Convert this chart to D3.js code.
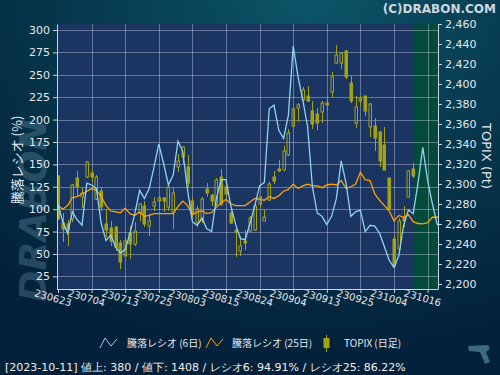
<!DOCTYPE html>
<html><head><meta charset="utf-8">
<script src="https://cdn.jsdelivr.net/npm/d3@7"></script>
<style>body{margin:0;background:#052a3c;} svg{display:block}</style>
</head><body><svg id="c" width="500" height="375"></svg>
<script>
const dates = ["230623","230626","230627","230628","230629","230630","230703","230704","230705","230706","230707","230710","230711","230712","230713","230714","230718","230719","230720","230721","230724","230725","230726","230727","230728","230731","230801","230802","230803","230804","230807","230808","230809","230810","230814","230815","230816","230817","230818","230821","230822","230823","230824","230825","230828","230829","230830","230831","230901","230904","230905","230906","230907","230908","230911","230912","230913","230914","230915","230919","230920","230921","230922","230925","230926","230927","230928","230929","231002","231003","231004","231005","231006","231010","231011","231012","231013","231016","231017","231018","231019"];
const tickLabels = ["230623","230704","230713","230725","230803","230815","230824","230904","230913","230925","231004","231016"];
const lastDate = "231011";

const open  = [2308,2261,2260,2265,2306,2287,2307,2311,2285,2293, 2260,2256,2257,2241,2228,2251,2240,2271,2278,2258, 2278,2283,2286,2277,2272,2317,2327,2317,2283,2261, 2263,2295,2289,2280,2307,2297,2271,2254,2233,2243, 2253,2254,2280,2263,2284,2307,2315,2314,2329,2358, 2376,2384,2388,2373,2370,2372,2381,2392,2421,2421, 2433,2401,2361,2383,2388,2357,2358,2352,2339,2306, 2245,2235,2266,2287,2315];
const high  = [2309,2271,2264,2300,2313,2297,2323,2314,2309,2297, 2275,2263,2258,2244,2247,2258,2262,2281,2283,2270, 2287,2288,2287,2300,2296,2330,2338,2329,2287,2278, 2287,2301,2290,2306,2315,2298,2273,2255,2248,2254, 2268,2280,2288,2274,2302,2313,2324,2338,2355,2377, 2381,2397,2398,2383,2376,2383,2388,2412,2439,2432, 2434,2408,2388,2388,2388,2381,2366,2353,2357,2306, 2249,2266,2278,2314,2321];
const low   = [2264,2242,2238,2262,2287,2276,2306,2302,2284,2273, 2247,2238,2233,2215,2227,2225,2238,2263,2257,2248, 2273,2273,2272,2273,2255,2312,2320,2297,2267,2257, 2261,2287,2278,2278,2278,2287,2260,2227,2228,2234, 2252,2253,2277,2263,2283,2300,2312,2313,2328,2357, 2362,2383,2382,2355,2354,2361,2373,2387,2420,2415, 2405,2381,2356,2378,2368,2347,2333,2317,2314,2275, 2217,2234,2257,2287,2306];
const close = [2265,2255,2254,2299,2297,2291,2322,2307,2307,2277, 2254,2243,2237,2222,2243,2240,2253,2280,2260,2263, 2282,2286,2283,2297,2291,2323,2337,2301,2270,2275, 2285,2291,2283,2304,2280,2290,2261,2252,2238,2241, 2266,2278,2287,2267,2300,2303,2313,2333,2351,2375, 2379,2394,2383,2360,2361,2381,2379,2407,2429,2431, 2407,2383,2377,2386,2373,2380,2346,2323,2314,2275, 2218,2263,2263,2313,2308];

const ratio6  = [105,86,73,97,88,82,129,127,123,84, 65,71,58,51,55,73,95,121,112,123, 147,173,151,127,138,176,164,121,86,82, 90,78,75,112,133,133,104,83,67,66, 84,104,126,130,212,216,188,179,205,282, 248,222,192,125,96,92,83,92,112,154, 129,92,97,99,75,82,81,73,58,43, 35,48,82,99,95,129,169,132,106,83, 80];
const ratio25 = [104,100,104,113,114,117,120,123,121,114, 104,98,97,96,101,95,93,97,92,93, 95,95,95,95,95,103,109,104,94,97, 98,95,96,102,107,111,106,104,104,104, 108,112,111,110,114,112,115,120,122,128, 123,126,128,126,126,124,127,128,127,132, 123,125,128,141,133,132,117,110,104,98, 87,93,91,94,86,84,83.5,85,91,91, 91];

const leftTicks  = [25,50,75,100,125,150,175,200,225,250,275,300];
const rightTicks = [2200,2220,2240,2260,2280,2300,2320,2340,2360,2380,2400,2420,2440,2460];

const L=57, R=438, T=24, B=289;
const candleColor="#a2a214", blue="#8fd3ee", orange="#ffa200", txt="#e4e8ee";
const svg=d3.select('#c');
const defs=svg.append('defs');
const rg=defs.append('radialGradient').attr('id','bg').attr('cx','62%').attr('cy','0%').attr('r','95%');
rg.append('stop').attr('offset','0%').attr('stop-color','#0b5568');
rg.append('stop').attr('offset','55%').attr('stop-color','#06354a');
rg.append('stop').attr('offset','100%').attr('stop-color','#03213a');
defs.append('clipPath').attr('id','clip').append('rect').attr('x',L).attr('y',T).attr('width',R-L).attr('height',B-T);

svg.append('rect').attr('width',500).attr('height',375).attr('fill','url(#bg)');

// watermark
svg.append('text').attr('transform','translate(46,302) rotate(-90)')
  .attr('font-family','DejaVu Sans').attr('font-weight','bold').attr('font-style','italic')
  .attr('font-size',38).attr('fill','rgba(110,160,180,0.32)').text('DRABON');

const x=d3.scalePoint().domain(dates).range([58, 58+4.8*(dates.length-1)]);
const yL=d3.scaleLinear().domain([10.9,306.7]).range([B,T]);
const yR=d3.scaleLinear().domain([2195,2460]).range([B,T]);

// plot background
svg.append('rect').attr('x',L).attr('y',T).attr('width',R-L).attr('height',B-T).attr('fill','#1b3563');
svg.append('rect').attr('x',x(lastDate)).attr('y',T).attr('width',R-x(lastDate)).attr('height',B-T).attr('fill','#044a3c');

// grid
const grid=svg.append('g').attr('stroke','rgba(225,230,245,0.38)').attr('stroke-width',1);
grid.selectAll('.h').data(leftTicks).join('line').attr('x1',L).attr('x2',R)
  .attr('y1',d=>Math.round(yL(d))+0.5).attr('y2',d=>Math.round(yL(d))+0.5);
grid.selectAll('.v').data(tickLabels.slice(1)).join('line').attr('y1',T).attr('y2',B)
  .attr('x1',d=>Math.round(x(d))+0.5).attr('x2',d=>Math.round(x(d))+0.5);

// candles
const cd=open.map((o,i)=>({d:dates[i],o,h:high[i],l:low[i],c:close[i]}));
const cg=svg.append('g').attr('clip-path','url(#clip)');
cd.forEach(k=>{
  const cx=Math.round(x(k.d))+0.5, top=Math.max(k.o,k.c), bot=Math.min(k.o,k.c);
  cg.append('line').attr('x1',cx).attr('x2',cx).attr('y1',yR(k.h)).attr('y2',yR(top)).attr('stroke',candleColor);
  cg.append('line').attr('x1',cx).attr('x2',cx).attr('y1',yR(bot)).attr('y2',yR(k.l)).attr('stroke',candleColor);
  const filled=k.c<k.o;
  cg.append('rect').attr('x',cx-1.5).attr('y',yR(top)).attr('width',2.5).attr('height',Math.max(1,yR(bot)-yR(top)))
    .attr('fill',filled?candleColor:'none').attr('stroke',candleColor).attr('stroke-width',1);
});

// lines
const lg=svg.append('g').attr('clip-path','url(#clip)');
const line=(arr,sc)=>d3.line().x((v,i)=>x(dates[i])).y(v=>sc(v))(arr);
lg.append('path').attr('d',line(ratio25,yL)).attr('fill','none').attr('stroke',orange).attr('stroke-width',1.3);
lg.append('path').attr('d',line(ratio6,yL)).attr('fill','none').attr('stroke',blue).attr('stroke-width',1.3);

// axes
function styleAxis(g){
  g.selectAll('path').attr('stroke','#c9d2e6');
  g.selectAll('line').attr('stroke','#c9d2e6');
  g.selectAll('text').attr('fill',txt).attr('font-family','DejaVu Sans').attr('font-size',11);
}
svg.append('g').attr('transform',`translate(${L},0)`)
  .call(d3.axisLeft(yL).tickValues(leftTicks).tickSize(4).tickSizeOuter(0).tickFormat(d3.format('d')))
  .call(styleAxis);
svg.append('g').attr('transform',`translate(${R},0)`)
  .call(d3.axisRight(yR).tickValues(rightTicks).tickSize(4).tickSizeOuter(0).tickFormat(d3.format(',')))
  .call(styleAxis);
const xa=svg.append('g').attr('transform',`translate(0,${B})`)
  .call(d3.axisBottom(x).tickValues(tickLabels).tickSize(4).tickSizeOuter(0).tickFormat(''))
  .call(styleAxis);
xa.select('path.domain').attr('d',`M${L},0.5H${R}`);
svg.append('g').selectAll('text').data(tickLabels).join('text')
  .attr('transform',d=>`translate(${x(d)-5},298) rotate(16)`)
  .attr('text-anchor','middle').attr('dy','0.35em')
  .attr('font-family','DejaVu Sans').attr('font-size',10).attr('fill',txt).text(d=>d);

// axis titles
svg.append('text').attr('transform','translate(22,160) rotate(-90)').attr('text-anchor','middle')
  .attr('font-family','Noto Sans CJK JP').attr('font-size',13).attr('fill',txt).text('騰落レシオ (%)');
svg.append('text').attr('transform','translate(482,156) rotate(90)').attr('text-anchor','middle')
  .attr('font-family','DejaVu Sans').attr('font-size',13).attr('fill',txt).text('TOPIX (Pt)');

// copyright
svg.append('text').attr('x',496).attr('y',13).attr('text-anchor','end')
  .attr('font-family','DejaVu Sans').attr('font-weight','bold').attr('font-size',12).attr('fill','#d0d6dc').text('(C)DRABON.COM');

// legend
const leg=svg.append('g').attr('font-family','Noto Sans CJK JP').attr('font-size',10).attr('fill',txt);
const zig=(x0,col)=>leg.append('path').attr('d',`M${x0},348L${x0+5},338L${x0+11},346L${x0+17},339`).attr('fill','none').attr('stroke',col).attr('stroke-width',1);
zig(100,blue); leg.append('text').attr('x',127).attr('y',347).text('騰落レシオ (6日)');
zig(206,orange); leg.append('text').attr('x',232).attr('y',347).text('騰落レシオ (25日)');
leg.append('line').attr('x1',326.5).attr('x2',326.5).attr('y1',335).attr('y2',352).attr('stroke',candleColor);
leg.append('rect').attr('x',323.5).attr('y',338).attr('width',6).attr('height',10).attr('fill',candleColor);
leg.append('text').attr('x',344).attr('y',347).text('TOPIX (日足)');

// status text
svg.append('text').attr('x',5).attr('y',371).attr('font-family','DejaVu Sans').attr('font-size',11).attr('fill','#f0f0f0')
  .text('[2023-10-11]  値上: 380 / 値下: 1408 / レシオ6: 94.91% / レシオ25: 86.22%');

// logo
svg.append('path').attr('d','M468,346 L488,345 L490,349 L486,352 L490,362 L485,364 L480,352 L469,351 Z').attr('fill','#3a6a80');
</script></body></html>
